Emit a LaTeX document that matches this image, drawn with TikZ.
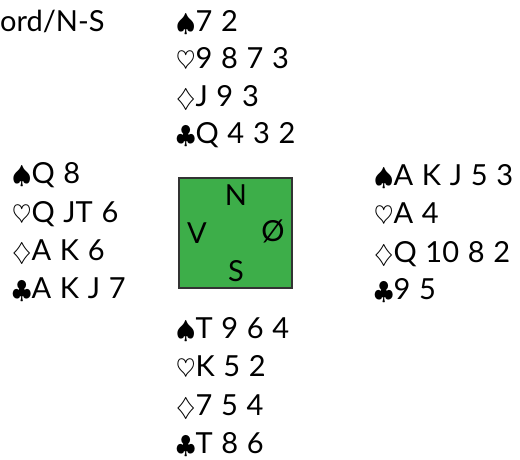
\documentclass[tikz,border=0pt]{standalone}
\usepackage{fontspec}
\setmainfont{Lato}
\definecolor{boardgreen}{RGB}{61,174,73}
\newcommand{\cardfont}{\fontsize{29}{34}\selectfont\spaceskip 0.3em\relax}
\begin{document}
\begin{tikzpicture}[x=1pt,y=-1pt,
  card/.style={anchor=base west,inner sep=0pt,font=\cardfont},
  seat/.style={inner sep=0pt,font=\cardfont}]
  \useasboundingbox (0,0) rectangle (520,459);
  % deal info
  \node[card] (info) at (0,31) {ord/N-S};
  % north
  \node[card] (nS) at (176,31) {$\spadesuit$7 2};
  \node[card] (nH) at (176,68) {$\heartsuit$9 8 7 3};
  \node[card] (nD) at (176,106) {$\diamondsuit$J 9 3};
  \node[card] (nC) at (176,143) {$\clubsuit$Q 4 3 2};
  % west
  \node[card] (wS) at (12,183) {$\spadesuit$Q 8};
  \node[card] (wH) at (12,222) {$\heartsuit$Q JT 6};
  \node[card] (wD) at (12,260) {$\diamondsuit$A K 6};
  \node[card] (wC) at (12,298) {$\clubsuit$A K J 7};
  % east
  \node[card] (eS) at (374,185) {$\spadesuit$A K J 5 3};
  \node[card] (eH) at (374,223) {$\heartsuit$A 4};
  \node[card] (eD) at (374,262) {$\diamondsuit$Q 10 8 2};
  \node[card] (eC) at (374,299) {$\clubsuit$9 5};
  % south
  \node[card] (sS) at (176,338) {$\spadesuit$T 9 6 4};
  \node[card] (sH) at (176,376) {$\heartsuit$K 5 2};
  \node[card] (sD) at (176,415) {$\diamondsuit$7 5 4};
  \node[card] (sC) at (176,453) {$\clubsuit$T 8 6};
  % table
  \draw[fill=boardgreen,draw=black!80,line width=1.2pt] (179,178) rectangle (292,288);
  \node[seat] (tN) at (236,195) {N};
  \node[seat] (tV) at (197,233) {V};
  \node[seat] (tO) at (273,231) {Ø};
  \node[seat] (tS) at (236,271) {S};
\end{tikzpicture}
\end{document}
